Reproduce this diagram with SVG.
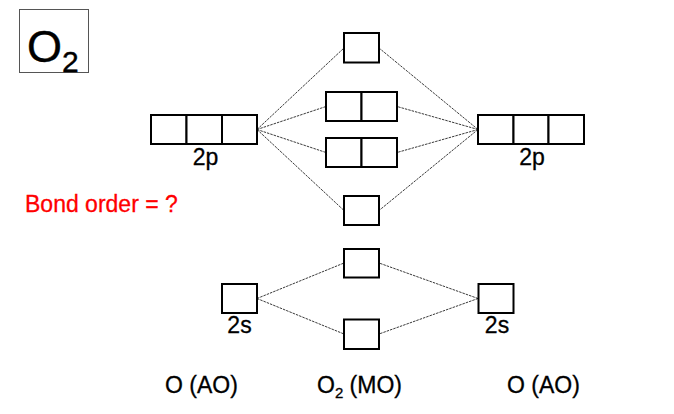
<svg xmlns="http://www.w3.org/2000/svg" width="674" height="414" viewBox="0 0 674 414">
<style>
.box{fill:#fff;stroke:#000;stroke-width:2}
.ln{fill:none;stroke:#222;stroke-width:0.9;stroke-dasharray:2.5 1}
text{font-family:"Liberation Sans",Arial,sans-serif;fill:#000}
.lbl{font-size:23px;stroke:#000;stroke-width:0.3}
.red{fill:#ff0000;stroke:#ff0000}
</style>
<rect width="674" height="414" fill="#fff"/>
<g id="title">
<rect x="19.5" y="9.5" width="69" height="63" fill="#fff" stroke="#555" stroke-width="1"/>
<text x="27" y="62" font-size="45" stroke="#000" stroke-width="0.4">O<tspan font-size="30" dy="9.5">2</tspan></text>
</g>
<g id="connectors">
<path class="ln" d="M257,129.5 L344,48 M257,129.5 L326,106.5 M257,129.5 L326,152.5 M257,129.5 L344,210.5"/>
<path class="ln" d="M478,129.5 L379,48 M478,129.5 L397,106.5 M478,129.5 L397,152.5 M478,129.5 L379,210.5"/>
<path class="ln" d="M257,298.5 L344,263 M257,298.5 L344,334 M478,298.5 L379,263 M478,298.5 L379,334"/>
</g>
<g id="left-2p">
<rect class="box" x="151" y="115" width="35.5" height="29"/>
<rect class="box" x="186.5" y="115" width="35.5" height="29"/>
<rect class="box" x="222" y="115" width="35" height="29"/>
<text class="lbl" x="205.5" y="165" text-anchor="middle">2p</text>
</g>
<g id="right-2p">
<rect class="box" x="478" y="115" width="35.5" height="29"/>
<rect class="box" x="513.5" y="115" width="35" height="29"/>
<rect class="box" x="548.5" y="115" width="35.5" height="29"/>
<text class="lbl" x="532" y="165" text-anchor="middle">2p</text>
</g>
<g id="sigma2p-star">
<rect class="box" x="344" y="33" width="35" height="29.5"/>
</g>
<g id="pi2p-star">
<rect class="box" x="326" y="92" width="35.5" height="29"/>
<rect class="box" x="361.5" y="92" width="35.5" height="29"/>
</g>
<g id="pi2p">
<rect class="box" x="326" y="138" width="35.5" height="29"/>
<rect class="box" x="361.5" y="138" width="35.5" height="29"/>
</g>
<g id="sigma2p">
<rect class="box" x="344" y="196" width="35" height="29"/>
</g>
<g id="sigma2s-star">
<rect class="box" x="344" y="249" width="35" height="28.5"/>
</g>
<g id="sigma2s">
<rect class="box" x="344" y="319.5" width="35" height="29.5"/>
</g>
<g id="left-2s">
<rect class="box" x="222" y="284" width="35" height="29"/>
<text class="lbl" x="239.5" y="333" text-anchor="middle">2s</text>
</g>
<g id="right-2s">
<rect class="box" x="478.5" y="284" width="35" height="29"/>
<text class="lbl" x="497" y="333" text-anchor="middle">2s</text>
</g>
<g id="labels">
<text class="lbl red" x="25" y="212">Bond order = ?</text>
<text class="lbl" x="165" y="393">O (AO)</text>
<text class="lbl" x="317" y="393">O<tspan font-size="15" dy="5">2</tspan><tspan dy="-5"> (MO)</tspan></text>
<text class="lbl" x="507" y="393">O (AO)</text>
</g>
</svg>
